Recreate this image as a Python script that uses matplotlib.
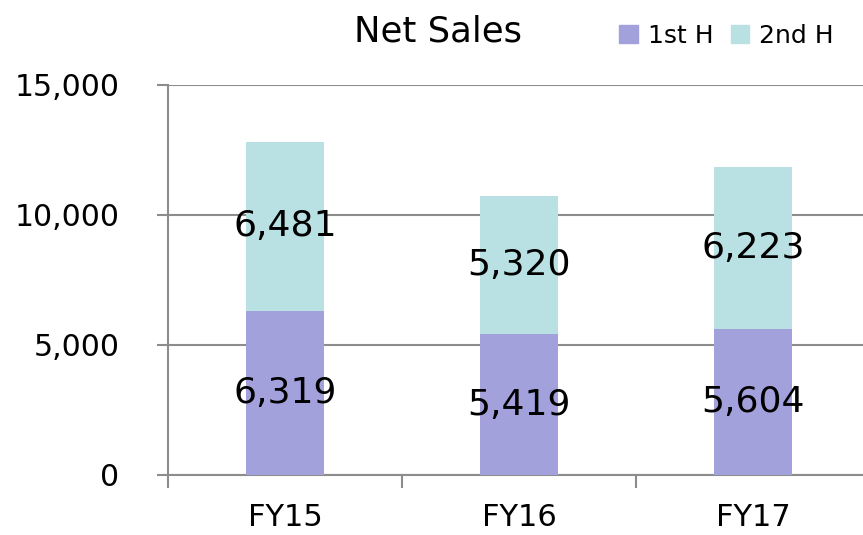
import matplotlib.pyplot as plt
from matplotlib.patches import Patch

# datos
years = ["FY15", "FY16", "FY17"]
first_half = [6319, 5419, 5604]
second_half = [6481, 5320, 6223]
y_ticks = [0, 5000, 10000, 15000]

c_first = "#A3A1DC"
c_second = "#B9E0E2"
grid_c = "#8C8C8C"

fig = plt.figure(figsize=(8.63, 5.35), dpi=100)
ax = fig.add_axes([168 / 863, 60 / 535, 702 / 863, 390 / 535])

x = list(range(len(years)))
ax.bar(x, first_half, width=0.33, color=c_first, zorder=3)
ax.bar(x, second_half, width=0.33, bottom=first_half, color=c_second, zorder=3)

# etiquetas dentro de las barras
for i in x:
    ax.text(i, first_half[i] / 2, f"{first_half[i]:,}", ha="center", va="center",
            fontsize=26, color="black", zorder=4)
    ax.text(i, first_half[i] + second_half[i] / 2, f"{second_half[i]:,}",
            ha="center", va="center", fontsize=26, color="black", zorder=4)

ax.set_xlim(-0.5, 2.5)
ax.set_ylim(0, 15000)
ax.set_yticks(y_ticks)
ax.set_yticklabels([f"{v:,}" for v in y_ticks], fontsize=21.5, va="center_baseline")
ax.yaxis.grid(True, color=grid_c, linewidth=1.5, zorder=0)
ax.tick_params(axis="y", length=8, width=1.5, color=grid_c, pad=27)

ax.set_xticks(x)
ax.set_xticklabels(years, fontsize=22)
ax.set_xticks([-0.5, 0.5, 1.5, 2.5], minor=True)
ax.tick_params(axis="x", which="major", length=0, pad=20)
ax.tick_params(axis="x", which="minor", length=9, width=1.5, color=grid_c)

for s in ["top", "right"]:
    ax.spines[s].set_visible(False)
ax.spines["left"].set_color(grid_c)
ax.spines["left"].set_linewidth(1.5)
ax.spines["bottom"].set_color(grid_c)
ax.spines["bottom"].set_linewidth(1.5)

fig.text(438 / 863, 1 - 32 / 535, "Net Sales", ha="center", va="center", fontsize=25.5)

handles = [Patch(color=c_first, label="1st H"), Patch(color=c_second, label="2nd H")]
fig.legend(handles=handles, loc="center right", bbox_to_anchor=(844 / 863, 1 - 36 / 535),
           ncol=2, frameon=False, fontsize=18, handlelength=0.75, handleheight=0.75,
           handletextpad=0.4, columnspacing=0.7, borderaxespad=0)

fig.savefig("out.png", dpi=100)
